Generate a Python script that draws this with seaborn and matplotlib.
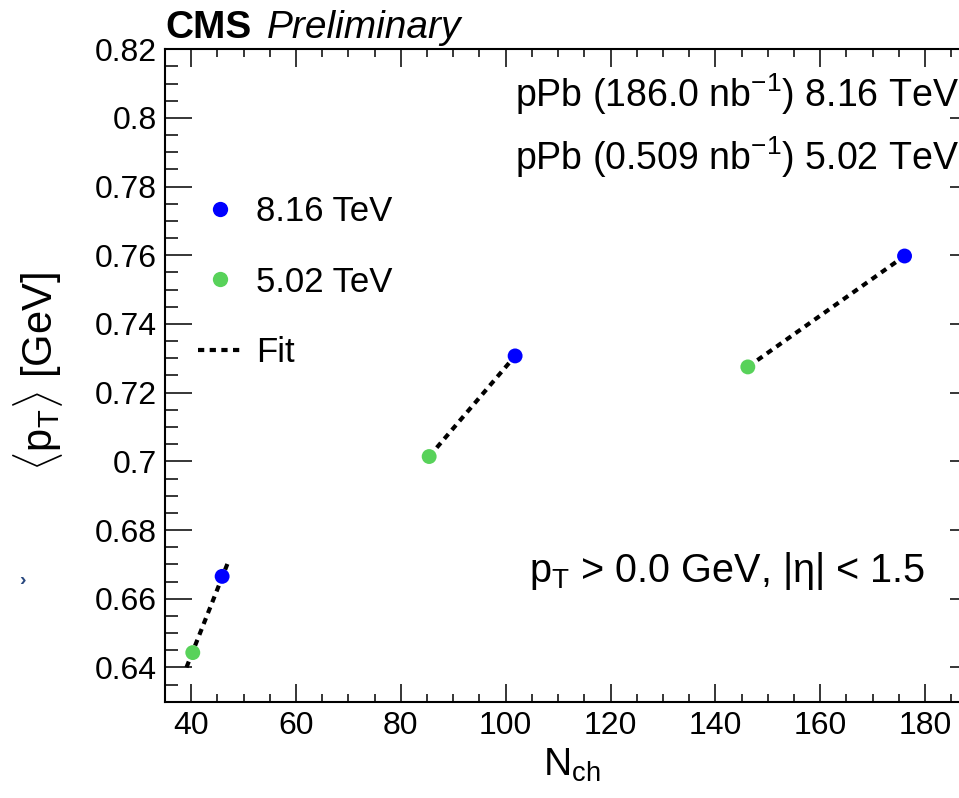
import numpy as np
import pandas as pd
import matplotlib
matplotlib.use("Agg")
import matplotlib.pyplot as plt
import seaborn as sns
from matplotlib.lines import Line2D
from matplotlib.ticker import FixedLocator, MultipleLocator, FuncFormatter

# Mean transverse momentum versus charged-particle multiplicity, pPb collisions
energies = ["8.16 TeV", "5.02 TeV"]
nch_816 = [45.9, 101.8, 176.1]
mpt_816 = [0.6665, 0.7307, 0.7598]
nch_502 = [40.3, 85.4, 146.2]
mpt_502 = [0.6443, 0.7014, 0.7275]

# Linear fits joining the two energies in each multiplicity class (end points)
fit_nch = [[39.1, 46.9], [85.4, 101.8], [146.2, 176.1]]
fit_mpt = [[0.6400, 0.6701], [0.7014, 0.7307], [0.7275, 0.7598]]

x_ticks = [40, 60, 80, 100, 120, 140, 160, 180]
y_ticks = [0.64, 0.66, 0.68, 0.70, 0.72, 0.74, 0.76, 0.78, 0.80, 0.82]

colors = {"8.16 TeV": "#0000ff", "5.02 TeV": "#58d25a"}

points = pd.DataFrame({
    "nch": nch_816 + nch_502,
    "mpt": mpt_816 + mpt_502,
    "energy": [energies[0]] * len(nch_816) + [energies[1]] * len(nch_502),
})
fits = pd.DataFrame({
    "nch": [v for seg in fit_nch for v in seg],
    "mpt": [v for seg in fit_mpt for v in seg],
    "seg": [i for i, seg in enumerate(fit_nch) for _ in seg],
})

sns.set_theme(style="ticks")
plt.rcParams["font.family"] = ["Liberation Sans", "DejaVu Sans"]
plt.rcParams["text.color"] = "black"
plt.rcParams["axes.labelcolor"] = "black"
plt.rcParams["mathtext.fontset"] = "custom"
plt.rcParams["mathtext.rm"] = "Liberation Sans"
plt.rcParams["mathtext.it"] = "Liberation Sans:italic"
plt.rcParams["mathtext.bf"] = "Liberation Sans:bold"

W, H = 959, 798
fig = plt.figure(figsize=(W / 100, H / 100), dpi=100)


def fx(x):
    return x / W


def fy(y):
    return 1 - y / H


L, R, T, B = 165, 977.4, 49.3, 701.7
ax = fig.add_axes([fx(L), fy(B), (R - L) / W, (B - T) / H])

fit_ls = (0, (1.5, 1.3))
sns.lineplot(data=fits, x="nch", y="mpt", units="seg", estimator=None,
             color="black", lw=3.0, ls=fit_ls, ax=ax, legend=False,
             dash_capstyle="butt", zorder=2)
sns.scatterplot(data=points, x="nch", y="mpt", hue="energy", palette=colors,
                s=115, linewidth=0, ax=ax, legend=False, zorder=3)

ax.set_xlim(35, 190)
ax.set_ylim(0.63, 0.82)
ax.xaxis.set_major_locator(FixedLocator(x_ticks))
ax.xaxis.set_minor_locator(MultipleLocator(5))
ax.yaxis.set_major_locator(FixedLocator(y_ticks))
ax.yaxis.set_minor_locator(MultipleLocator(0.005))
ax.yaxis.set_major_formatter(FuncFormatter(lambda v, p: f"{v:g}"))
ax.set_xlabel("")
ax.set_ylabel("")

for s in ax.spines.values():
    s.set_linewidth(1.5)
    s.set_color("black")
ax.tick_params(axis="both", which="both", direction="in", top=True, right=True,
               width=1.1, color="black", labelsize=23, labelcolor="black")
ax.tick_params(axis="y", which="major", length=19.5, pad=6)
ax.tick_params(axis="y", which="minor", length=9.5)
ax.tick_params(axis="x", which="major", length=13, pad=7)
ax.tick_params(axis="x", which="minor", length=6)

# Legend
handles = [
    Line2D([], [], ls="none", marker="o", ms=11, mew=0, color=colors[energies[0]]),
    Line2D([], [], ls="none", marker="o", ms=11, mew=0, color=colors[energies[1]]),
    Line2D([], [], color="black", lw=3.0, ls=fit_ls, dash_capstyle="butt"),
]
ax.legend(handles, energies + ["Fit"], loc="upper left",
          bbox_to_anchor=(fx(198), fy(195)), bbox_transform=fig.transFigure,
          frameon=False, fontsize=25, borderpad=0, borderaxespad=0,
          handlelength=1.26, handletextpad=0.42, labelspacing=1.08)

# Labels and annotations
fig.text(fx(L), fy(38), "CMS", weight="bold", size=28, va="baseline")
fig.text(fx(266.7), fy(38), "Preliminary", style="italic", size=28, va="baseline")
fig.text(fx(959), fy(106.7), r"pPb (186.0 nb$^{-1}$) 8.16 TeV", size=27,
         ha="right", va="baseline")
fig.text(fx(959), fy(170), r"pPb (0.509 nb$^{-1}$) 5.02 TeV", size=27,
         ha="right", va="baseline")
fig.text(fx(925), fy(582), r"$\mathrm{p}_{\mathrm{T}}$ > 0.0 GeV, |η| < 1.5",
         size=28.5, ha="right", va="baseline")
fig.text(fx(38), fy(372), r"$\langle\mathrm{p}_{\mathrm{T}}\rangle$ [GeV]",
         size=30, rotation=90, ha="center", va="center")
fig.text(fx(572), fy(776), r"N$_{\mathrm{ch}}$", size=28, ha="center",
         va="baseline")
fig.text(fx(22), fy(580), "›", size=14, color="#2b4a80", ha="center",
         va="center", weight="bold")

fig.savefig("out.png", dpi=100)
